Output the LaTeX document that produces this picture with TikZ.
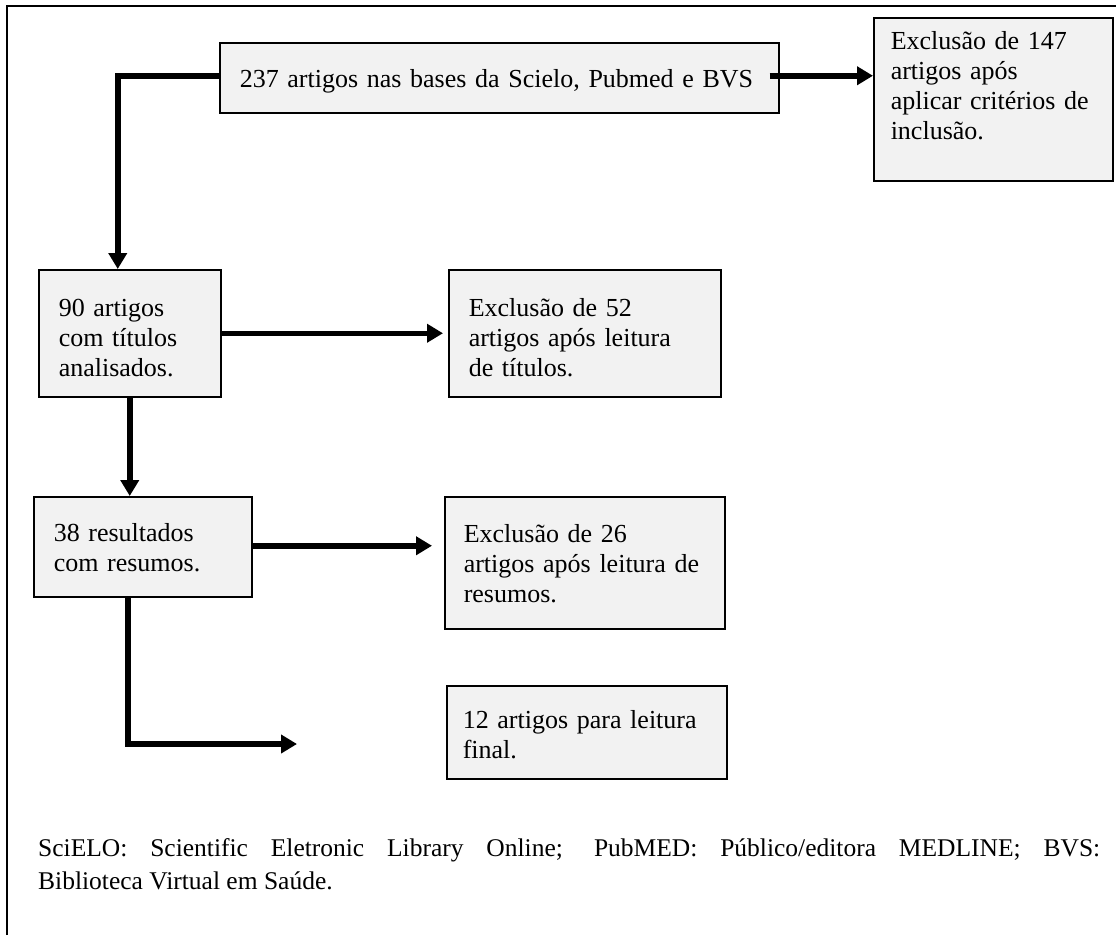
\documentclass[tikz,border=0pt]{standalone}
\usepackage{fontspec}
\setmainfont{Liberation Serif}
\usetikzlibrary{arrows.meta}
\definecolor{boxgray}{HTML}{F2F2F2}
\begin{document}
\begin{tikzpicture}[x=1pt,y=-1pt,
  box/.style={draw=black, line width=1.5pt, fill=boxgray, rectangle,
    inner xsep=20pt, inner ysep=0pt, anchor=north west, align=left,
    font=\fontsize{26}{30}\selectfont},
  arr/.style={line width=5.5pt, -{Triangle[length=16pt,width=18pt]}},
  frame/.style={line width=1.5pt},
  captext/.style={inner sep=0pt, anchor=base west, font=\fontsize{25.5}{31}\selectfont}
]
\useasboundingbox (0,0) rectangle (1116,935);
\draw[frame] (7,935) -- (7,6) -- (1116,6);

\node[box, text width=519pt, text height=45pt, text depth=25pt] (A) at (219,42)
  {\mbox{237 artigos nas bases da Scielo, Pubmed e BVS}};
\node[box, inner xsep=17pt, text width=205pt, text height=32pt, text depth=131pt] (B) at (873,17)
  {\mbox{Exclusão de 147}\\\mbox{artigos após}\\\mbox{aplicar critérios de}\\\mbox{inclusão.}};
\node[box, text width=142pt, text height=47pt, text depth=80pt] (C) at (38,269)
  {\mbox{90 artigos}\\\mbox{com títulos}\\\mbox{analisados.}};
\node[box, text width=232pt, text height=47pt, text depth=80pt] (D) at (448,269)
  {\mbox{Exclusão de 52}\\\mbox{artigos após leitura}\\\mbox{de títulos.}};
\node[box, text width=178pt, text height=45pt, text depth=55pt] (E) at (33,496)
  {\mbox{38 resultados}\\\mbox{com resumos.}};
\node[box, inner xsep=19pt, text width=242pt, text height=46pt, text depth=86pt] (F) at (444,496)
  {\mbox{Exclusão de 26}\\\mbox{artigos após leitura de}\\\mbox{resumos.}};
\node[box, inner xsep=16pt, text width=248pt, text height=43pt, text depth=50pt] (G) at (446,685)
  {\mbox{12 artigos para leitura}\\\mbox{final.}};

\coordinate (g1) at (297,744);

\draw[arr] ([yshift=2pt,xshift=-10pt]A.east) -- ([yshift=2pt]A.east -| B.west);
\draw[arr] ([yshift=2pt]A.west) -| ([xshift=-12pt]C.north);
\draw[arr, shorten >=5pt] (C.east) -- (C.east -| D.west);
\draw[arr] (C.south) -- (C.south |- E.north);
\draw[arr, shorten >=12pt] ([yshift=1pt]E.east) -- ([yshift=1pt]E.east -| F.west);
\draw[arr] ([xshift=-15pt]E.south) |- (g1);

\node[captext] (cap1) at (38,856)
  {\makebox[1062pt][s]{SciELO: Scientific Eletronic Library Online; PubMED: Público/editora MEDLINE; BVS:}};
\node[captext] (cap2) at (38,889) {Biblioteca Virtual em Saúde.};
\end{tikzpicture}
\end{document}
